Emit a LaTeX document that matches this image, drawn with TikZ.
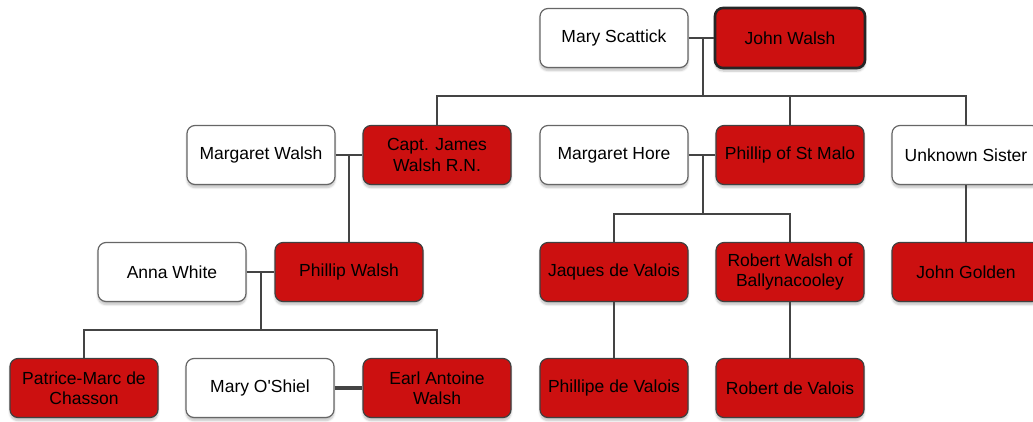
\documentclass[tikz,border=0pt]{standalone}
\usepackage{fontspec}
\setmainfont{Liberation Sans}[Ligatures=TeXOff]
\usetikzlibrary{shadows.blur}
\definecolor{redbox}{HTML}{CC1010}
\definecolor{linegrey}{HTML}{444444}
\tikzset{
  person/.style={rectangle, rounded corners=8pt, minimum width=148pt, minimum height=59pt,
    align=center, font=\fontsize{17.5}{20.5}\selectfont, text=black,
    blur shadow={shadow blur steps=6, shadow xshift=0pt, shadow yshift=-3pt, shadow opacity=25}},
  whitebox/.style={person, fill=white, draw=black!60, line width=1.2pt},
  redbox/.style={person, fill=redbox, draw=black!75, line width=1.2pt},
  rootbox/.style={redbox, draw=black!85, line width=2.6pt, minimum width=150pt, minimum height=60pt},
  conn/.style={draw=linegrey, line width=2pt},
  thickconn/.style={draw=linegrey, line width=4pt}
}
\begin{document}
\begin{tikzpicture}[x=1pt,y=-1pt]
\useasboundingbox (0,0) rectangle (1033,421);
% row 1
\node[whitebox] (ms) at (614,38) {Mary Scattick};
\node[rootbox] (jw) at (790,38) {John Walsh};
% row 2
\node[whitebox] (mw) at (261,155) {Margaret Walsh};
\node[redbox] (cj) at (437,155) {Capt. James\\Walsh R.N.};
\node[whitebox] (mh) at (614,155) {Margaret Hore};
\node[redbox] (psm) at (790,155) {Phillip of St Malo};
\node[whitebox] (us) at (966,155) {Unknown Sister};
% row 3
\node[whitebox] (aw) at (172,272) {Anna White};
\node[redbox] (pw) at (349,272) {Phillip Walsh};
\node[redbox] (jv) at (614,272) {Jaques de Valois};
\node[redbox] (rw) at (790,272) {Robert Walsh of\\Ballynacooley};
\node[redbox] (jg) at (966,272) {John Golden};
% row 4
\node[redbox] (pm) at (84,388) {Patrice-Marc de\\Chasson};
\node[whitebox] (mo) at (260,388) {Mary O'Shiel};
\node[redbox] (ea) at (437,388) {Earl Antoine\\Walsh};
\node[redbox] (pv) at (614,388) {Phillipe de Valois};
\node[redbox] (rv) at (790,388) {Robert de Valois};
% coordinates
\coordinate (m1) at (703,38);
\coordinate (b1) at (703,96);
\coordinate (m2) at (349,155);
\coordinate (m3) at (261,272);
\coordinate (b3) at (261,330);
\coordinate (m4) at (703,155);
\coordinate (b4) at (703,214);
% connectors
\draw[conn] (ms.east) -- (jw.west);
\draw[conn] (m1) -- (b1);
\draw[conn] (cj.north) |- (b1) -| (us.north);
\draw[conn] (b1) -| (psm.north);
\draw[conn] (mw.east) -- (cj.west);
\draw[conn] (m2) -- (pw.north);
\draw[conn] (aw.east) -- (pw.west);
\draw[conn] (m3) -- (b3);
\draw[conn] (pm.north) |- (b3) -| (ea.north);
\draw[conn] (mh.east) -- (psm.west);
\draw[conn] (m4) -- (b4);
\draw[conn] (jv.north) |- (b4) -| (rw.north);
\draw[conn] (us.south) -- (jg.north);
\draw[conn] (jv.south) -- (pv.north);
\draw[conn] (rw.south) -- (rv.north);
\draw[thickconn] (mo.east) -- (ea.west);
\end{tikzpicture}
\end{document}
